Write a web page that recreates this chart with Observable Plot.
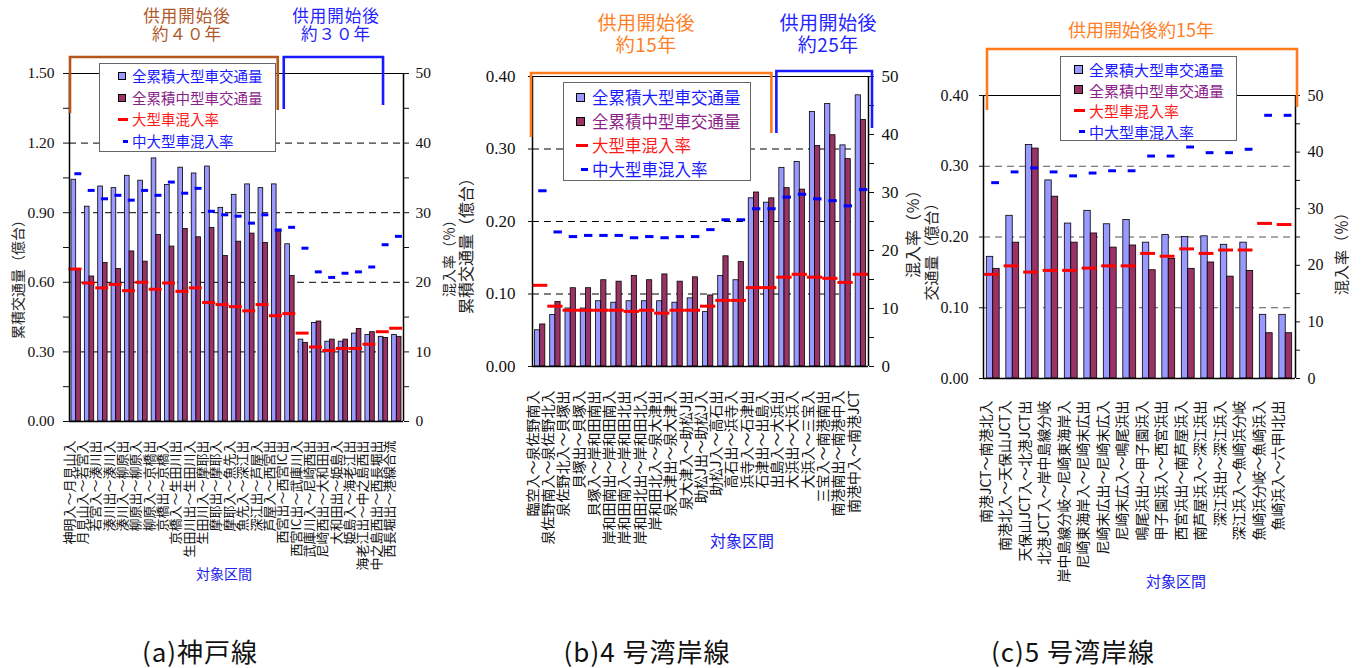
<!DOCTYPE html>
<html>
<head>
<meta charset="utf-8">
<script src="https://cdn.jsdelivr.net/npm/d3@7"></script>
<script src="https://cdn.jsdelivr.net/npm/@observablehq/plot@0.6"></script>
<style>
  body { margin: 0; background: #fff; }
  #fig { position: relative; width: 1362px; height: 668px; overflow: hidden; background: #fff;
         font-family: "Noto Sans CJK JP", "Noto Sans", sans-serif; color: #111; }
  .panel { position: absolute; top: 0; }
  .vt { position: absolute; white-space: nowrap; transform: translate(-50%, -50%) rotate(-90deg); color: #222; line-height: 1; }
  .ht { position: absolute; white-space: nowrap; transform: translate(-50%, -50%); line-height: 1; }
  .legend { position: absolute; background: #fff; border: 1.5px solid #666; box-sizing: border-box; }
  .legend .row { position: absolute; white-space: nowrap; line-height: 1; transform: translateY(-50%); }
  .legend .mk { position: absolute; box-sizing: border-box; }
  .period { text-align: center; white-space: pre-line; font-family: "Noto Sans CJK JP", "Noto Sans", sans-serif; }
</style>
</head>
<body>
<div id="fig"></div>
<script>
// ---- (a) 神戸線 ----
const sectionsA = [
  "神明入～月見山入", "月見山入～若宮入", "若宮入～湊川出", "湊川出～湊川入", "湊川入～柳原出",
  "柳原出～柳原入", "柳原入～京橋出", "京橋出～京橋入", "京橋入～生田川出", "生田川出～生田川入",
  "生田川入～摩耶出", "摩耶出～摩耶入", "摩耶入～魚先入", "魚先入～深江出", "深江出～芦屋入",
  "芦屋入～西宮出", "西宮出～西宮IC出", "西宮IC出～武庫川入", "武庫川入～尼崎西出", "尼崎西出～大和田出",
  "大和田出～姫島入", "姫島入～海老江出", "海老江出～中之島西出", "中之島西出～西長堀出", "西長堀出～港線合流"
];
const largeA = [1.042, 0.926, 1.013, 1.006, 1.059, 1.038, 1.134, 1.019, 1.094, 1.069, 1.099, 0.921, 0.977,
                1.022, 1.006, 1.022, 0.764, 0.353, 0.425, 0.344, 0.344, 0.379, 0.373, 0.365, 0.373];
const mediumA = [0.657, 0.625, 0.683, 0.657, 0.733, 0.689, 0.804, 0.754, 0.830, 0.794, 0.834, 0.713, 0.775,
                 0.810, 0.769, 0.827, 0.627, 0.339, 0.431, 0.353, 0.353, 0.399, 0.385, 0.360, 0.365];
const largeRateA = [21.9, 19.9, 19.2, 19.7, 18.8, 20.0, 19.0, 19.9, 18.7, 19.2, 17.1, 16.8, 16.5,
                    15.9, 16.8, 15.2, 15.5, 12.7, 10.7, 10.2, 10.5, 10.5, 11.1, 12.9, 13.4];
const midLargeRateA = [35.6, 33.2, 32.0, 32.5, 31.8, 33.2, 32.5, 34.4, 32.8, 33.5, 30.2, 29.7, 29.5,
                       28.5, 29.7, 27.5, 27.9, 24.9, 21.5, 20.7, 21.3, 21.5, 22.2, 25.4, 26.6];
const yTicksA = [0, 0.3, 0.6, 0.9, 1.2, 1.5];
const yMinorA = [0.15, 0.45, 0.75, 1.05, 1.35];
const gridA = [0.3, 0.6, 0.9, 1.2];
const periodsA = [
  {title: "供用開始後\n約４０年", from: 0, to: 16},
  {title: "供用開始後\n約３０年", from: 16, to: 24}
];

// ---- (b) 4号湾岸線 ----
const sectionsB = [
  "臨空入～泉佐野南入", "泉佐野南入～泉佐野北入", "泉佐野北入～貝塚出", "貝塚出～貝塚入", "貝塚入～岸和田南出",
  "岸和田南出～岸和田南入", "岸和田南入～岸和田北出", "岸和田北出～岸和田北入", "岸和田北入～泉大津出",
  "泉大津出～泉大津入", "泉大津入～助松J出", "助松J出～助松J入", "助松J入～高石出", "高石出～浜寺入",
  "浜寺入～石津出", "石津出～出島入", "出島入～大浜出", "大浜出～大浜入", "大浜入～三宝入",
  "三宝入～南港南出", "南港南出～南港中入", "南港中入～南港JCT"
];
const largeB = [0.050, 0.071, 0.080, 0.080, 0.090, 0.088, 0.090, 0.090, 0.090, 0.088, 0.094,
                0.075, 0.125, 0.119, 0.232, 0.226, 0.274, 0.282, 0.351, 0.362, 0.305, 0.374];
const mediumB = [0.058, 0.089, 0.108, 0.108, 0.119, 0.117, 0.125, 0.119, 0.127, 0.117, 0.123,
                 0.098, 0.152, 0.144, 0.240, 0.232, 0.246, 0.244, 0.304, 0.319, 0.286, 0.340];
const largeRateB = [14.0, 10.4, 9.7, 9.7, 9.7, 9.7, 9.5, 9.7, 9.2, 9.7, 9.7,
                    10.4, 11.4, 11.4, 13.6, 13.6, 15.4, 15.9, 15.4, 15.2, 14.5, 15.9];
const midLargeRateB = [30.3, 23.2, 22.4, 22.6, 22.6, 22.6, 22.2, 22.4, 22.2, 22.4, 22.4,
                       23.6, 25.3, 25.3, 27.2, 27.2, 29.2, 29.7, 28.9, 28.6, 27.7, 30.5];
const yTicksB = [0, 0.1, 0.2, 0.3, 0.4];
const gridB = [0.1, 0.2, 0.3];
const periodsB = [
  {title: "供用開始後\n約15年", from: 0, to: 16},
  {title: "供用開始後\n約25年", from: 16, to: 22}
];

// ---- (c) 5号湾岸線 ----
const sectionsC = [
  "南港JCT～南港北入", "南港北入～天保山JCT入", "天保山JCT入～北港JCT出", "北港JCT入～岸中島線分岐",
  "岸中島線分岐～尼崎東海岸入", "尼崎東海岸入～尼崎末広出", "尼崎末広出～尼崎末広入", "尼崎末広入～鳴尾浜出",
  "鳴尾浜出～甲子園浜入", "甲子園浜入～西宮浜出", "西宮浜出～南芦屋浜入", "南芦屋浜入～深江浜出",
  "深江浜出～深江浜入", "深江浜入～魚崎浜分岐", "魚崎浜分岐～魚崎浜入", "魚崎浜入～六甲I北出"
];
const largeC = [0.172, 0.230, 0.330, 0.280, 0.219, 0.237, 0.218, 0.224, 0.192, 0.203, 0.200, 0.201,
                0.189, 0.192, 0.090, 0.090];
const mediumC = [0.155, 0.192, 0.325, 0.257, 0.192, 0.205, 0.185, 0.188, 0.153, 0.169, 0.155, 0.164,
                 0.144, 0.152, 0.064, 0.064];
const largeRateC = [18.4, 19.9, 18.8, 19.1, 19.1, 19.5, 19.9, 19.9, 22.1, 21.6, 22.9, 22.1,
                    22.7, 22.7, 27.4, 27.2];
const midLargeRateC = [34.6, 36.5, 37.2, 36.5, 35.8, 36.3, 36.7, 36.7, 39.3, 39.3, 40.9, 39.9,
                       39.9, 40.5, 46.5, 46.5];
const yTicksC = [0, 0.1, 0.2, 0.3, 0.4];
const gridC = [0.1, 0.2, 0.3];
const periodsC = [
  {title: "供用開始後約15年", from: 0, to: 16}
];

// shared texts
const rateTicks = [0, 10, 20, 30, 40, 50];
const rateMinor = [5, 15, 25, 35, 45];
const legendLabels = ["全累積大型車交通量", "全累積中型車交通量", "大型車混入率", "中大型車混入率"];
const volumeTitle = "累積交通量（億台）";
const volumeTitleShort = "交通量（億台）";
const rateTitle = "混入率（％）";
const sectionTitle = "対象区間";
const captions = ["(a)神戸線", "(b)4 号湾岸線", "(c)5 号湾岸線"];

const LIGHT = "#9999ff", DARK = "#993366", RED = "#ff0000", BLUE = "#0000ff";
const CJK = '"Noto Sans CJK JP", "Noto Sans", sans-serif';
const SERIF = '"Liberation Serif", "DejaVu Serif", serif';
const XHTML = "http://www.w3.org/1999/xhtml";

// bracket marking the in-service period above a run of sections, with its caption
function periodBrackets(periods, st) {
  return (index, scales, values, dims) => {
    const g = d3.create("svg:g");
    periods.forEach((p, j) => {
      const s = st[j];
      const xa = scales.x(p.from) + s.inset[0];
      const xb = scales.x(p.to) + s.inset[1];
      const yt = dims.marginTop + s.rise;
      g.append("path")
        .attr("d", `M${xa},${yt + s.legs[0]}V${yt}H${xb}V${yt + s.legs[1]}`)
        .attr("fill", "none").attr("stroke", s.color).attr("stroke-width", 2.6);
      const cx = (xa + xb) / 2 + s.titleDx;
      const fo = g.append("foreignObject")
        .attr("x", cx - 110).attr("y", s.titleTop).attr("width", 220).attr("height", 60);
      const div = document.createElementNS(XHTML, "div");
      div.className = "period";
      Object.assign(div.style, {fontSize: s.titleSize + "px", lineHeight: s.lineHeight + "px",
                                letterSpacing: s.spacing + "px", color: s.textColor});
      div.textContent = p.title;
      fo.node().appendChild(div);
    });
    return g.node();
  };
}

function drawPanel(p) {
  const g = p.geom;
  const n = p.sections.length;
  const k = p.yMax / 50;
  const rows = p.sections.map((s, i) => ({
    i, s, large: p.large[i], medium: p.medium[i],
    rl: p.largeRate[i] * k, rm: p.midLargeRate[i] * k
  }));
  const marks = [
    Plot.gridY({ticks: p.grid, stroke: g.gridColor, strokeOpacity: 1, strokeDasharray: "7,5", strokeWidth: 1}),
    Plot.rect(rows, {x1: d => d.i + 0.5 - g.barW, x2: d => d.i + 0.5, y1: 0, y2: "large",
                     fill: LIGHT, stroke: "#000", strokeWidth: 0.8}),
    Plot.rect(rows, {x1: d => d.i + 0.5, x2: d => d.i + 0.5 + g.barW, y1: 0, y2: "medium",
                     fill: DARK, stroke: "#000", strokeWidth: 0.8}),
    Plot.ruleY(rows, {x1: d => d.i + 0.5 + g.red[0] - g.red[1] / 2, x2: d => d.i + 0.5 + g.red[0] + g.red[1] / 2,
                      y: "rl", stroke: RED, strokeWidth: 3}),
    Plot.ruleY(rows, {x1: d => d.i + 0.5 + g.blue[0] - g.blue[1] / 2, x2: d => d.i + 0.5 + g.blue[0] + g.blue[1] / 2,
                      y: "rm", stroke: BLUE, strokeWidth: 3}),
    Plot.ruleY([p.yMax], {stroke: "#000", strokeWidth: 1.2}),
    Plot.ruleY([0], {stroke: "#000", strokeWidth: 1.5}),
    Plot.ruleX([0, n], {stroke: "#000", strokeWidth: 1.5}),
    Plot.axisY({anchor: "left", ticks: p.yTicks, tickFormat: d3.format(".2f"), tickSize: g.lt[0],
                tickPadding: g.lt[1], fontSize: g.tickFont, fontFamily: SERIF, label: null}),
    Plot.axisY({anchor: "right", ticks: rateTicks.map(r => r * k), tickFormat: d => String(Math.round(d / k)),
                tickSize: g.rt[0], tickPadding: g.rt[1], fontSize: g.tickFont, fontFamily: SERIF, label: null}),
    Plot.axisY({anchor: "right", ticks: rateMinor.map(r => r * k), tickFormat: () => "", tickSize: g.rt[0], label: null}),
    Plot.text(rows, {x: d => d.i + 0.5 + g.lblShift, frameAnchor: "bottom", text: "s", rotate: -90,
                     textAnchor: "end", dy: g.lblDy, fontFamily: CJK, fontSize: g.lblFont, fill: "#111"}),
    periodBrackets(p.periods, p.bracketStyle)
  ];
  if (p.yMinor) {
    marks.push(Plot.axisY({anchor: "left", ticks: p.yMinor, tickFormat: () => "", tickSize: g.lt[0], label: null}));
  }
  const svg = Plot.plot({
    width: g.width, height: g.height,
    marginLeft: g.ml, marginRight: g.mr, marginTop: g.mt, marginBottom: g.mb,
    x: {domain: [0, n], axis: null},
    y: {domain: [0, p.yMax], axis: null, label: null},
    style: {background: "transparent", overflow: "visible", color: "#111"},
    marks
  });
  // numeric tick labels are set in a Times-like serif
  d3.select(svg).selectAll("text")
    .filter(function () { return /^\d+(\.\d+)?$/.test(this.textContent.trim()); })
    .style("font-family", SERIF)
    .style("font-size", g.tickFont + "px");
  const holder = document.createElement("div");
  holder.className = "panel";
  holder.style.left = g.left + "px";
  holder.style.width = g.width + "px";
  holder.appendChild(svg);
  fig.appendChild(holder);
}

function drawLegend(L) {
  const box = document.createElement("div");
  box.className = "legend";
  Object.assign(box.style, {left: L.left + "px", top: L.top + "px", width: L.width + "px", height: L.height + "px"});
  const textColors = ["#1a1aff", "#8b1f8b", "#ff1a1a", "#1a1aff"];
  legendLabels.forEach((label, j) => {
    const yc = L.y0 + j * L.dy;
    const mk = document.createElement("div");
    mk.className = "mk";
    if (j < 2) {
      Object.assign(mk.style, {left: L.mx + "px", top: (yc - L.sq / 2) + "px", width: L.sq + "px", height: L.sq + "px",
                               background: j === 0 ? LIGHT : DARK, border: "1px solid #000"});
    } else {
      const w = j === 2 ? L.redW : L.blueW;
      Object.assign(mk.style, {left: (L.mx + L.redW - w) + "px", top: (yc - 1.5) + "px", width: w + "px", height: "3px",
                               background: j === 2 ? RED : BLUE});
    }
    box.appendChild(mk);
    const t = document.createElement("div");
    t.className = "row";
    t.textContent = label;
    Object.assign(t.style, {left: L.tx + "px", top: yc + "px", fontSize: L.font + "px", color: textColors[j]});
    box.appendChild(t);
  });
  fig.appendChild(box);
}

function addText(cls, text, x, y, size, color, extra) {
  const d = document.createElement("div");
  d.className = cls;
  d.textContent = text;
  Object.assign(d.style, {left: x + "px", top: y + "px", fontSize: size + "px", color: color || "#222"}, extra || {});
  fig.appendChild(d);
}

const fig = document.getElementById("fig");

drawPanel({
  sections: sectionsA, large: largeA, medium: mediumA, largeRate: largeRateA, midLargeRate: midLargeRateA,
  yMax: 1.5, yTicks: yTicksA, yMinor: yMinorA, grid: gridA, periods: periodsA,
  geom: {left: 0, width: 440, height: 600, ml: 69, mr: 37, mt: 73, mb: 179, barW: 0.35,
         red: [-0.05, 0.97], blue: [0.16, 0.52], lblShift: -0.2, lblDy: 19, lblFont: 13,
         tickFont: 15.5, lt: [6, 9], rt: [5, 7], gridColor: "#000"},
  bracketStyle: [
    {inset: [1, -5], rise: -16, legs: [56, 53], color: "#b5541b", textColor: "#b0582a", titleDx: 13,
     titleTop: 6, lineHeight: 18, titleSize: 16.5, spacing: 1},
    {inset: [1, -6.6], rise: -16, legs: [52, 48], color: "#1a1aff", textColor: "#1f1fff", titleDx: 2.5,
     titleTop: 6, lineHeight: 18, titleSize: 16.5, spacing: 1}
  ]
});

drawPanel({
  sections: sectionsB, large: largeB, medium: mediumB, largeRate: largeRateB, midLargeRate: midLargeRateB,
  yMax: 0.4, yTicks: yTicksB, grid: gridB, periods: periodsB,
  geom: {left: 440, width: 460, height: 600, ml: 92, mr: 32, mt: 76, mb: 234, barW: 0.34,
         red: [0, 1.0], blue: [0.18, 0.55], lblShift: -0.15, lblDy: 24, lblFont: 14,
         tickFont: 17, lt: [4, 13], rt: [5, 8], gridColor: "#000"},
  bracketStyle: [
    {inset: [-1, -5], rise: -3, legs: [64, 60], color: "#ff7a1a", textColor: "#ff7f27", titleDx: -5,
     titleTop: 11, lineHeight: 22, titleSize: 19, spacing: 0.5},
    {inset: [0, 4], rise: -5, legs: [62, 57], color: "#1a1aff", textColor: "#2424ff", titleDx: 4,
     titleTop: 11, lineHeight: 22, titleSize: 19, spacing: 0.5}
  ]
});

drawPanel({
  sections: sectionsC, large: largeC, medium: mediumC, largeRate: largeRateC, midLargeRate: midLargeRateC,
  yMax: 0.4, yTicks: yTicksC, grid: gridC, periods: periodsC,
  geom: {left: 900, width: 462, height: 600, ml: 83, mr: 67, mt: 95, mb: 222, barW: 0.33,
         red: [-0.06, 0.76], blue: [0.12, 0.4], lblShift: -0.12, lblDy: 22, lblFont: 14,
         tickFont: 16, lt: [4, 11], rt: [4, 8], gridColor: "#555"},
  bracketStyle: [
    {inset: [4, 2], rise: -46, legs: [61, 58], color: "#ff7a1a", textColor: "#ff7f27", titleDx: -1,
     titleTop: 18, lineHeight: 22, titleSize: 18, spacing: 0}
  ]
});

drawLegend({left: 99, top: 63, width: 177, height: 89, mx: 18, tx: 32, y0: 12, dy: 21.7, font: 14.5, sq: 8, redW: 10, blueW: 5});
drawLegend({left: 563, top: 82, width: 188, height: 99, mx: 12, tx: 28, y0: 14, dy: 24, font: 16.5, sq: 9, redW: 12, blueW: 7});
drawLegend({left: 1060, top: 56, width: 177, height: 85, mx: 13, tx: 28, y0: 12, dy: 20.7, font: 15, sq: 9, redW: 11, blueW: 6});

// axis titles
addText("vt", volumeTitle, 17, 276, 14);
addText("vt", rateTitle, 448, 255, 14);
addText("vt", volumeTitle, 465, 242, 16);
addText("vt", rateTitle, 912, 230, 16);
addText("vt", volumeTitleShort, 930, 248, 15);
addText("vt", rateTitle, 1340, 250, 15);

// section axis titles
addText("ht", sectionTitle, 224, 573, 14, "#2222ee");
addText("ht", sectionTitle, 742, 540, 16, "#2222ee");
addText("ht", sectionTitle, 1176, 580, 15, "#2222ee");

// panel captions
addText("ht", captions[0], 200, 651, 26, "#111", {letterSpacing: "1px"});
addText("ht", captions[1], 647, 651, 26, "#111", {letterSpacing: "1px"});
addText("ht", captions[2], 1073, 651, 26, "#111", {letterSpacing: "1px"});
</script>
</body>
</html>
